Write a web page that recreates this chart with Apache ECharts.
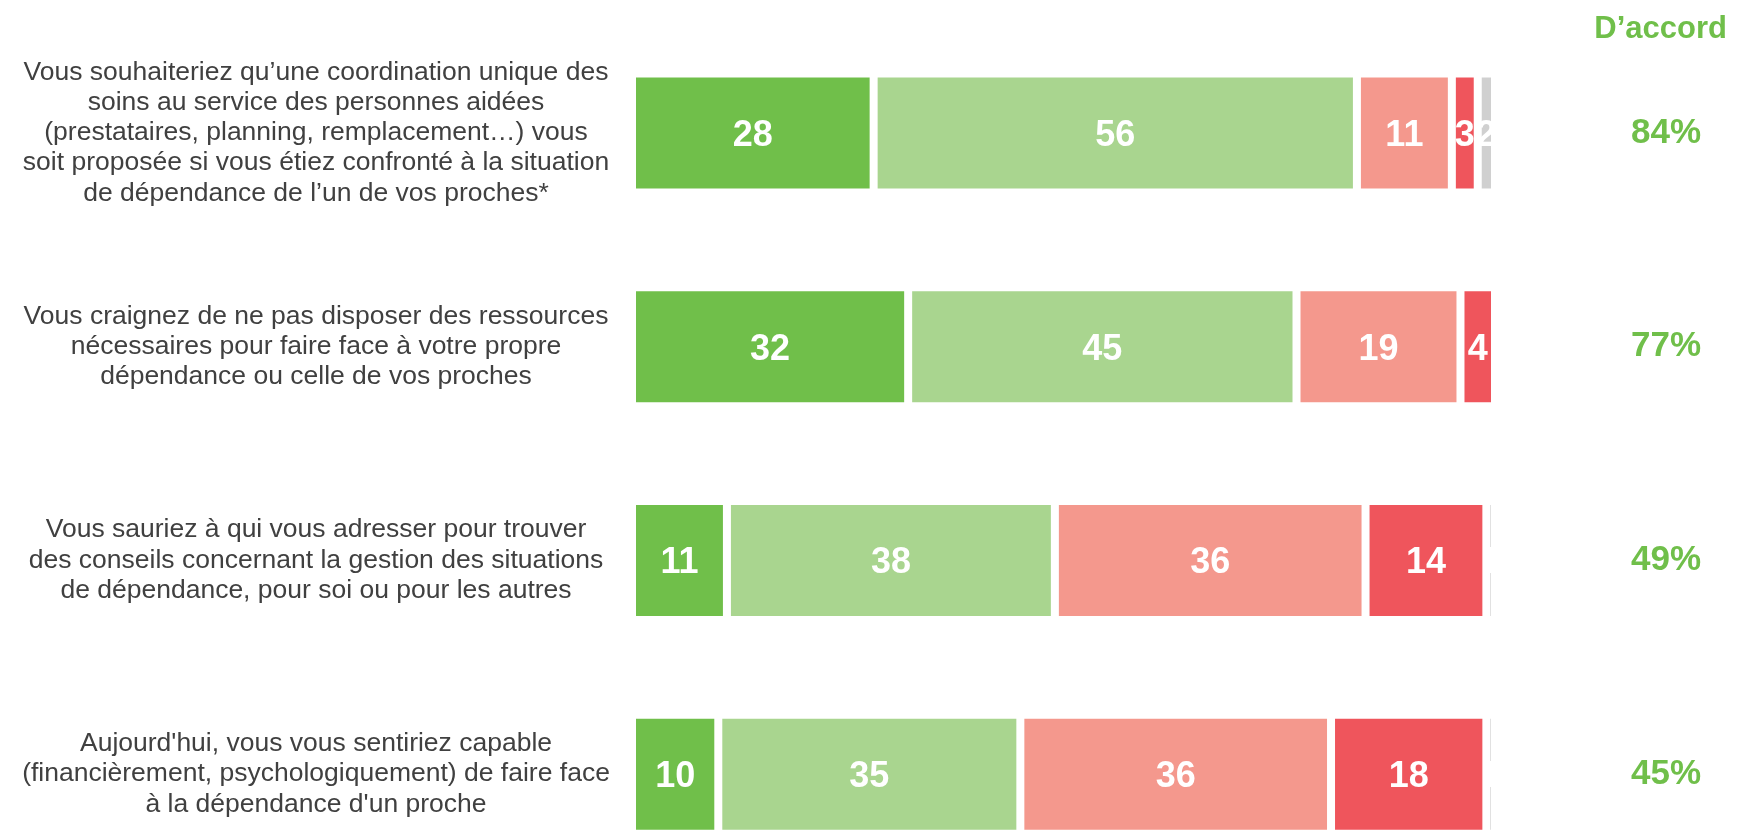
<!DOCTYPE html>
<html>
<head>
<meta charset="utf-8">
<script src="https://cdn.jsdelivr.net/npm/echarts@6/dist/echarts.min.js"></script>
<style>
	html, body { margin: 0; padding: 0; background: #fff; }
	#chart { width: 1739px; height: 836px; }
</style>
</head>
<body>
<div id="chart"></div>
<script>
	// questions (top to bottom)
	const questions = [
		"Vous souhaiteriez qu’une coordination unique des\nsoins au service des personnes aidées\n(prestataires, planning, remplacement…) vous\nsoit proposée si vous étiez confronté à la situation\nde dépendance de l’un de vos proches*",
		"Vous craignez de ne pas disposer des ressources\nnécessaires pour faire face à votre propre\ndépendance ou celle de vos proches",
		"Vous sauriez à qui vous adresser pour trouver\ndes conseils concernant la gestion des situations\nde dépendance, pour soi ou pour les autres",
		"Aujourd'hui, vous vous sentiriez capable\n(financièrement, psychologiquement) de faire face\nà la dépendance d'un proche"
	];
	// answer shares (%)
	const toutAFait = [28, 32, 11, 10];
	const plutot = [56, 45, 38, 35];
	const plutotPas = [11, 19, 36, 36];
	const pasDuTout = [3, 4, 14, 18];
	const nsp = [2, 0, 1, 1];
	// total "D'accord"
	const daccord = [84, 77, 49, 45];

	const font = "Arial, 'Liberation Sans', sans-serif";
	const chart = echarts.init(document.getElementById('chart'));

	function seg(name, data, color) {
		return {
			name: name,
			type: 'bar',
			stack: 'total',
			data: data.map(v => v === 0 ? null : v),
			barWidth: 119,
			itemStyle: { color: color, borderColor: '#ffffff', borderWidth: 4 },
			label: {
				show: true,
				position: 'inside',
				formatter: '{c}',
				offset: [0, 3],
				color: '#ffffff',
				fontSize: 36,
				fontWeight: 'bold',
				fontFamily: font
			},
			silent: true
		};
	}

	const option = {
		animation: false,
		backgroundColor: '#ffffff',
		title: {
			text: 'D’accord',
			right: 12,
			top: 14,
			padding: 0,
			textStyle: { color: '#70bf4a', fontSize: 31, fontWeight: 'bold', fontFamily: font }
		},
		grid: { left: 632, width: 863, top: 26, height: 855, outerBoundsMode: 'none', containLabel: false },
		xAxis: { type: 'value', min: 0, max: 100, show: false },
		yAxis: [
			{
				type: 'category',
				inverse: true,
				data: questions,
				axisLine: { show: false },
				axisTick: { show: false },
				axisLabel: {
					align: 'center',
					margin: 316,
					fontSize: 26.5,
					lineHeight: 30.3,
					color: '#404040',
					fontFamily: font
				}
			},
			{
				type: 'category',
				inverse: true,
				position: 'right',
				data: daccord.map(v => v + '%'),
				axisLine: { show: false },
				axisTick: { show: false },
				axisLabel: {
					align: 'center',
					margin: 171,
					padding: [4, 0, 0, 0],
					fontSize: 35,
					fontWeight: 'bold',
					color: '#70bf4a',
					fontFamily: font
				}
			}
		],
		series: [
			seg('Tout à fait', toutAFait, '#70bf4a'),
			seg('Plutôt', plutot, '#a9d58f'),
			seg('Plutôt pas', plutotPas, '#f4988d'),
			seg('Pas du tout', pasDuTout, '#ef555c'),
			seg('NSP', nsp, '#d0d0d0')
		]
	};
	chart.setOption(option);
</script>
</body>
</html>
